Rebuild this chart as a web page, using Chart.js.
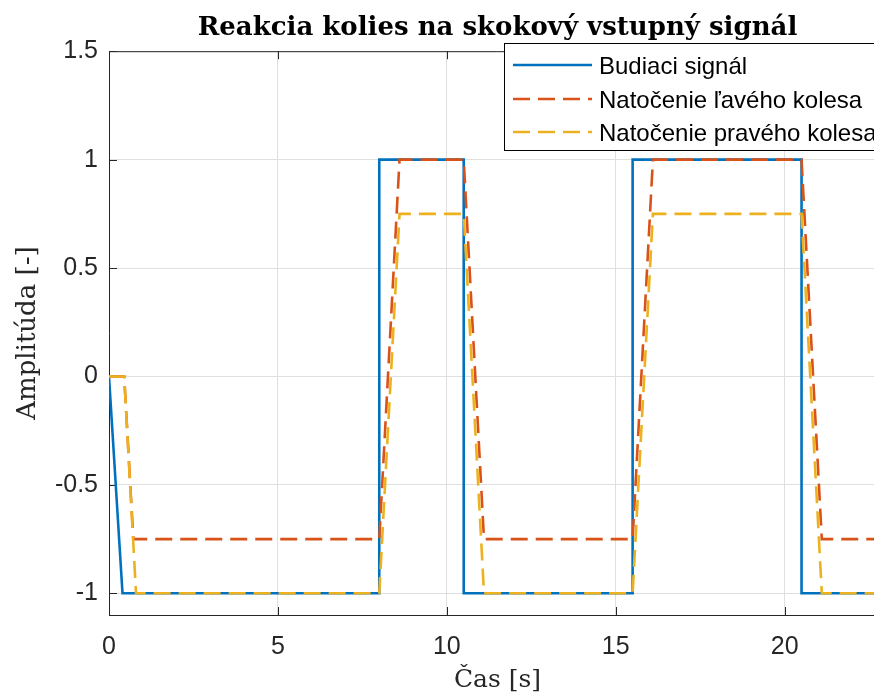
<!DOCTYPE html>
<html>
<head>
<meta charset="utf-8">
<script src="https://cdn.jsdelivr.net/npm/chart.js@4/dist/chart.umd.min.js"></script>
<style>
  html, body { margin: 0; padding: 0; background: #fff; }
  #wrap { width: 874px; height: 693px; overflow: hidden; position: relative; }
  canvas { display: block; }
</style>
</head>
<body>
<div id="wrap"><canvas id="graf" width="900" height="693"></canvas></div>
<script>
// cas [s] a hodnoty - odcitane z grafu
const casBudiaci = [0, 0.4, 8, 8, 10.5, 10.5, 15.5, 15.5, 20.5, 20.5, 23];
const budiaci    = [0, -1, -1, 1, 1, -1, -1, 1, 1, -1, -1];

const casLave    = [0, 0.45, 0.72, 8, 8.6, 10.5, 11.1, 15.5, 16.1, 20.5, 21.1, 23];
const laveKoleso = [0, 0, -0.75, -0.75, 1, 1, -0.75, -0.75, 1, 1, -0.75, -0.75];

const casPrave    = [0, 0.45, 0.8, 8, 8.6, 10.5, 11.1, 15.5, 16.1, 20.5, 21.1, 23];
const praveKoleso = [0, 0, -1, -1, 0.75, 0.75, -1, -1, 0.75, 0.75, -1, -1];

const xTicks = [0, 5, 10, 15, 20];
const yTicks = [-1, -0.5, 0, 0.5, 1, 1.5];

const nazvy = ["Budiaci signál", "Natočenie ľavého kolesa", "Natočenie pravého kolesa"];

const body = (xs, ys) => xs.map((x, i) => ({x: x, y: ys[i]}));

const osy = '#262626';

// MATLAB ma ticky dovnutra + ramik hore/vpravo
const ramik = {
  id: 'ramik',
  beforeDatasetsDraw(chart) {
    const {ctx, chartArea: a, scales} = chart;
    ctx.save();
    ctx.strokeStyle = osy;
    ctx.lineWidth = 1;
    ctx.beginPath();
    ctx.moveTo(a.left, a.top + 0.5); ctx.lineTo(a.right, a.top + 0.5);
    ctx.moveTo(a.right - 0.5, a.top); ctx.lineTo(a.right - 0.5, a.bottom);
    const L = 8;
    xTicks.forEach(v => {
      const px = Math.round(scales.x.getPixelForValue(v)) + 0.5;
      ctx.moveTo(px, a.bottom); ctx.lineTo(px, a.bottom - L);
      ctx.moveTo(px, a.top); ctx.lineTo(px, a.top + L);
    });
    yTicks.forEach(v => {
      const py = Math.round(scales.y.getPixelForValue(v)) + 0.5;
      ctx.moveTo(a.left, py); ctx.lineTo(a.left + L, py);
      ctx.moveTo(a.right, py); ctx.lineTo(a.right - L, py);
    });
    ctx.stroke();
    ctx.restore();
  }
};

const legenda = {
  id: 'legenda',
  afterDraw(chart) {
    const ctx = chart.ctx;
    const x0 = 504.5, y0 = 43.5, w = 385, h = 107;
    ctx.save();
    ctx.fillStyle = '#fff';
    ctx.fillRect(x0, y0, w, h);
    ctx.strokeStyle = '#000';
    ctx.lineWidth = 1;
    ctx.strokeRect(x0, y0, w, h);
    const riadky = [65, 99, 132];
    // poradie datasetov: budiaci, lave, prave
    chart.data.datasets.forEach((ds, i) => {
      const y = riadky[i];
      ctx.strokeStyle = ds.borderColor;
      ctx.lineWidth = ds.borderWidth;
      ctx.setLineDash(ds.borderDash || []);
      ctx.beginPath();
      ctx.moveTo(513, y); ctx.lineTo(592, y);
      ctx.stroke();
      ctx.setLineDash([]);
      ctx.fillStyle = '#000';
      ctx.font = '24px "Liberation Sans", Arial, sans-serif';
      ctx.textBaseline = 'middle';
      ctx.fillText(ds.label, 599, y + 2);
    });
    ctx.restore();
  }
};

new Chart(document.getElementById('graf'), {
  type: 'line',
  data: {
    datasets: [
      {
        label: nazvy[0],
        data: body(casBudiaci, budiaci),
        borderColor: '#0072BD',
        borderWidth: 2.6,
        order: 3
      },
      {
        label: nazvy[1],
        data: body(casLave, laveKoleso),
        borderColor: '#D95319',
        borderWidth: 2.6,
        borderDash: [17, 8],
        order: 2
      },
      {
        label: nazvy[2],
        data: body(casPrave, praveKoleso),
        borderColor: '#EDB120',
        borderWidth: 2.6,
        borderDash: [17, 8],
        order: 1
      }
    ]
  },
  options: {
    responsive: false,
    animation: false,
    elements: {
      point: { radius: 0 },
      line: { tension: 0, borderCapStyle: 'butt', fill: false }
    },
    layout: { padding: { left: 0, right: 14, top: 0, bottom: 0 } },
    plugins: {
      legend: { display: false },
      tooltip: { enabled: false },
      title: {
        display: true,
        fullSize: false,
        text: 'Reakcia kolies na skokový vstupný signál',
        color: '#000',
        font: { family: '"DejaVu Serif", serif', size: 26, weight: 'bold' },
        padding: { top: 13, bottom: 7 }
      }
    },
    scales: {
      x: {
        type: 'linear',
        min: 0,
        max: 23,
        afterFit(s) { s.height = 78; },
        afterBuildTicks(s) { s.ticks = xTicks.map(v => ({value: v})); },
        grid: { color: '#dfdfdf', drawTicks: false },
        border: { color: osy, width: 1 },
        ticks: {
          color: osy,
          padding: 17,
          maxRotation: 0,
          font: { family: '"Liberation Sans", Arial, sans-serif', size: 25 },
          callback: v => String(v)
        },
        title: {
          display: true,
          text: 'Čas [s]',
          color: osy,
          font: { family: '"DejaVu Serif", serif', size: 25 },
          padding: { top: 0, bottom: -2 }
        }
      },
      y: {
        type: 'linear',
        min: -1.1,
        max: 1.5,
        afterFit(s) { s.width = 109; },
        afterBuildTicks(s) { s.ticks = yTicks.map(v => ({value: v})); },
        grid: { color: '#dfdfdf', drawTicks: false },
        border: { color: osy, width: 1 },
        ticks: {
          color: osy,
          padding: 11,
          font: { family: '"Liberation Sans", Arial, sans-serif', size: 25 },
          callback: v => String(v)
        },
        title: {
          display: true,
          text: 'Amplitúda [-]',
          color: osy,
          font: { family: '"DejaVu Serif", serif', size: 26 },
          padding: { top: 13, bottom: 0 }
        }
      }
    }
  },
  plugins: [ramik, legenda]
});
</script>
</body>
</html>
